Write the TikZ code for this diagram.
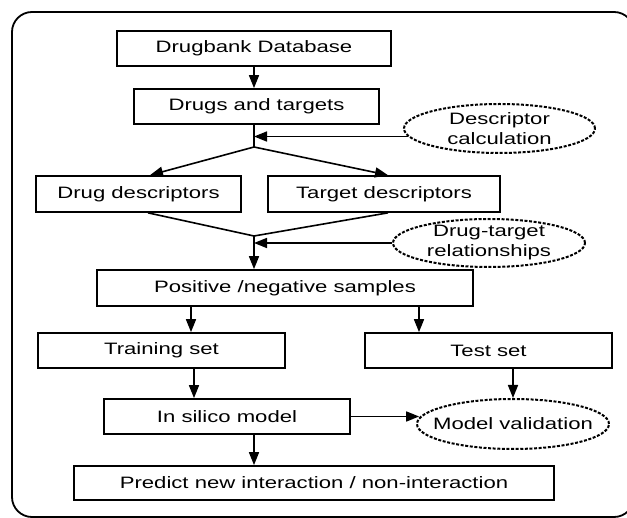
\documentclass[tikz,border=0pt]{standalone}
\usepackage{fontspec}
\setmainfont[FakeStretch=1.34]{Liberation Sans}
\usetikzlibrary{shapes.geometric, arrows.meta}

\begin{document}
\begin{tikzpicture}[x=1pt, y=-1pt,
  every node/.style={font=\fontsize{16.5}{20}\selectfont},
  box/.style={draw, line width=1.7pt, inner sep=0pt},
  oval/.style={ellipse, draw, line width=2pt, dash pattern=on 3pt off 1.6pt, inner sep=0pt},
  arr/.style={line width=1.6pt, -{Triangle[length=13pt, width=10pt]}},
  link/.style={line width=1.6pt}]

\useasboundingbox (0,0) rectangle (627,518);
\clip (0,0) rectangle (627,518);

% Outer frame
\draw[line width=1.8pt, rounded corners=20pt] (12,12) rectangle (634,517);

% Boxes
\node[box, minimum width=274pt, minimum height=35pt] (db) at (254,48.5) {Drugbank Database};
\node[box, minimum width=245pt, minimum height=35pt] (dt) at (256.5,106.5) {Drugs and targets};
\node[box, minimum width=205pt, minimum height=36pt] (dd) at (138.5,194) {Drug descriptors};
\node[box, minimum width=232pt, minimum height=36pt] (td) at (384,194) {Target descriptors};
\node[box, minimum width=376pt, minimum height=36pt] (pn) at (285,288) {Positive /negative samples};
\node[box, minimum width=247pt, minimum height=35pt] (train) at (161.5,350.5) {Training set};
\node[box, minimum width=247pt, minimum height=35pt] (test) at (488.5,350.5) {Test set};
\node[box, minimum width=246pt, minimum height=35pt] (model) at (227,416.5) {In silico model};
\node[box, minimum width=480pt, minimum height=34pt] (pred) at (314,483) {Predict new interaction / non-interaction};

% Dotted ovals
\node[oval, minimum width=191pt, minimum height=49pt,
  label={[align=center]center:Descriptor\\calculation}] (desc) at (499.5,128.5) {};
\node[oval, minimum width=192pt, minimum height=48pt,
  label={[align=center]center:Drug-target\\relationships}] (rel) at (489,243) {};
\node[oval, minimum width=192pt, minimum height=50pt,
  label={center:Model validation}] (valid) at (513,424) {};

% Split and merge points
\coordinate (split) at (254,147);
\coordinate (merge) at (254,236);

% Top part
\draw[arr] (db.south) -- (db.south |- dt.north);
\draw[link] (split |- dt.south) -- (split);
\draw[arr] (desc.185) -- (desc.185 -| split);
\draw[arr] (split) -- ([xshift=11.5pt]dd.north);
\draw[arr] (split) -- ([xshift=4pt]td.north);

% Merge of descriptors
\draw[link] ([xshift=9.5pt]dd.south) -- (merge) -- ([xshift=4pt]td.south);
\draw[arr] (rel.west) -- (rel.west -| merge);
\draw[arr] (merge) -- (merge |- pn.north);

% Sample sets
\draw[arr] ([xshift=-94pt]pn.south) -- ([xshift=29.5pt]train.north);
\draw[arr] ([xshift=134pt]pn.south) -- ([xshift=-69.5pt]test.north);

% Model
\draw[arr] ([xshift=32.5pt]train.south) -- ([xshift=-33pt]model.north);
\draw[arr] (valid.north |- test.south) -- (valid.north);
\draw[arr] (model.east) -- (model.east -| valid.176);
\draw[arr] ([xshift=27pt]model.south) -- ([xshift=-60pt]pred.north);

\end{tikzpicture}
\end{document}
